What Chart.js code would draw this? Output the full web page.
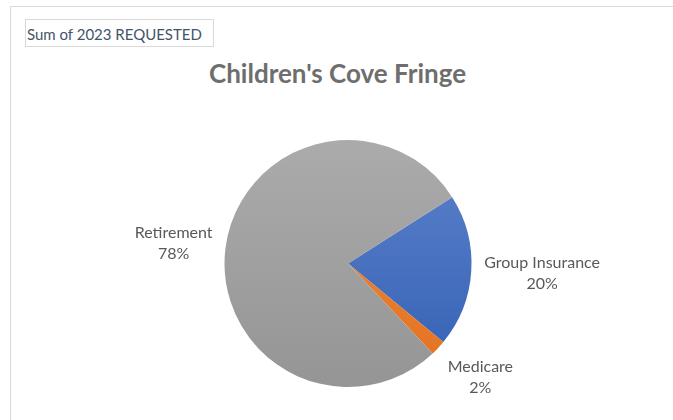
<!DOCTYPE html>
<html>
<head>
<meta charset="utf-8">
<script src="https://cdn.jsdelivr.net/npm/chart.js@4/dist/chart.umd.min.js"></script>
<style>
  html, body { margin: 0; padding: 0; background: #ffffff; }
  #wrap { position: relative; width: 673px; height: 420px; overflow: hidden; }
  #frame { position: absolute; left: 10px; top: 6px; width: 700px; height: 440px;
           border: 1px solid #d9d9d9; box-sizing: border-box; }
  #field { position: absolute; left: 25px; top: 19px; height: 23px; padding: 3px 11px 0 1px;
           border: 1px solid #d9d9d9; font-family: Lato, "Open Sans", sans-serif; font-size: 15px;
           color: #44546a; line-height: 23px; white-space: nowrap; }
  #title { position: absolute; left: 0; width: 675px; top: 57px; text-align: center;
           font-family: Lato, "Open Sans", sans-serif; font-weight: bold; font-size: 26px;
           color: #6e6e6e; line-height: normal; }
  canvas { position: absolute; left: 0; top: 0; }
</style>
</head>
<body>
<div id="wrap">
  <div id="frame"></div>
  <div id="field">Sum of 2023 REQUESTED</div>
  <div id="title">Children's Cove Fringe</div>
  <canvas id="c" width="673" height="420"></canvas>
</div>
<script>
const categories = ["Group Insurance", "Medicare", "Retirement"];
const percentages = [20, 2, 78];
const sliceColors = [
  ["#5d82cb", "#3360b4"],
  ["#f08840", "#e2721f"],
  ["#ababab", "#959595"]
];

// vertical gradient per slice, lighter at the top of the pie
function sliceFill(ctx) {
  const chart = ctx.chart;
  const area = chart.chartArea;
  if (!area) return sliceColors[ctx.dataIndex][0];
  const g = chart.ctx.createLinearGradient(0, area.top, 0, area.bottom);
  g.addColorStop(0, sliceColors[ctx.dataIndex][0]);
  g.addColorStop(1, sliceColors[ctx.dataIndex][1]);
  return g;
}

const clamp = (v) => Math.max(-1, Math.min(1, v));

// category name and percent just outside each slice
const outsideLabels = {
  id: "outsideLabels",
  afterDatasetsDraw(chart) {
    const c = chart.ctx;
    const meta = chart.getDatasetMeta(0);
    c.save();
    c.font = "16px Lato, 'Open Sans', sans-serif";
    c.fillStyle = "#595959";
    c.textAlign = "center";
    c.textBaseline = "middle";
    const lineH = 21;
    meta.data.forEach((arc, i) => {
      const p = arc.getProps(["x", "y", "startAngle", "endAngle", "outerRadius"], true);
      const mid = (p.startAngle + p.endAngle) / 2;
      const lines = [categories[i], percentages[i] + "%"];
      const w = Math.max(...lines.map(t => c.measureText(t).width));
      const h = lines.length * lineH;
      const gap = 13;
      const ax = p.x + Math.cos(mid) * (p.outerRadius + gap);
      const ay = p.y + Math.sin(mid) * (p.outerRadius + gap);
      const cx = ax + clamp(Math.cos(mid) * 1.4) * w / 2;
      const cy = ay + clamp(Math.sin(mid) * 1.4) * h / 2;
      lines.forEach((t, k) => c.fillText(t, cx, cy - h / 2 + lineH / 2 + k * lineH));
    });
    c.restore();
  }
};

new Chart(document.getElementById("c"), {
  type: "pie",
  data: {
    labels: categories,
    datasets: [{
      data: percentages,
      backgroundColor: sliceFill,
      borderWidth: 0
    }]
  },
  options: {
    responsive: false,
    animation: false,
    rotation: 57.5,
    layout: { padding: { left: 100, right: 77, top: 140, bottom: 33 } },
    plugins: {
      legend: { display: false },
      tooltip: { enabled: false },
      title: { display: false }
    }
  },
  plugins: [outsideLabels]
});
</script>
</body>
</html>
